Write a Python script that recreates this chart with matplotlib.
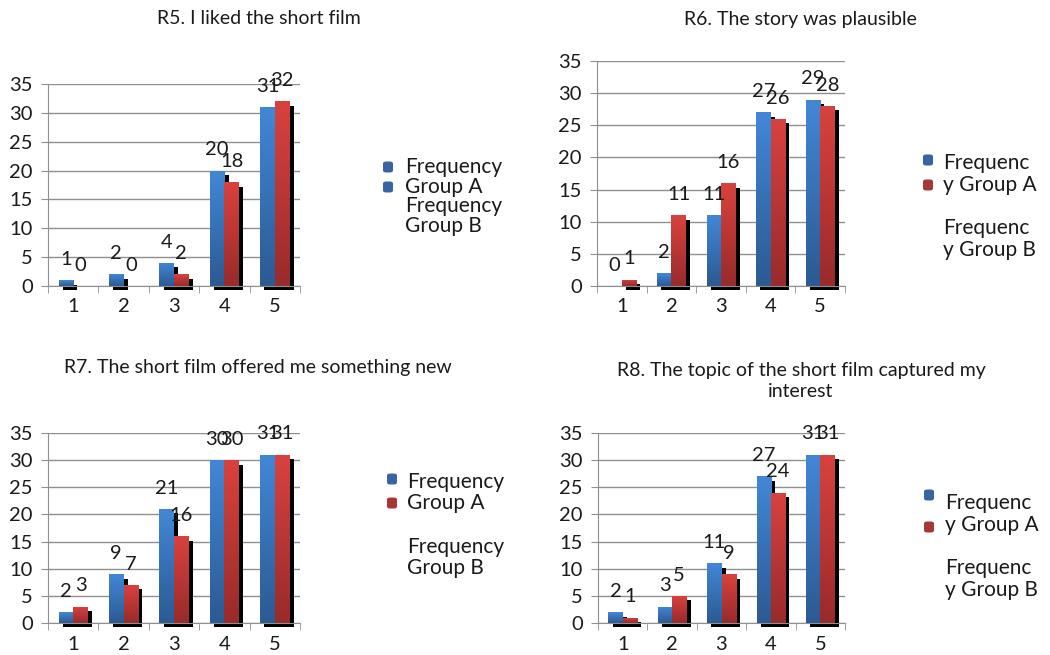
import numpy as np
import matplotlib
matplotlib.use('Agg')
import matplotlib.pyplot as plt
import matplotlib.patheffects as pe
from matplotlib.patches import FancyBboxPatch
from matplotlib.colors import LinearSegmentedColormap

plt.rcParams['font.family'] = ['Lato', 'DejaVu Sans']

# survey answers (scale 1-5), counts per group
categories = ['1', '2', '3', '4', '5']
series_names = ['Frequency Group A', 'Frequency Group B']

r5_group_a = [1, 2, 4, 20, 31]
r5_group_b = [0, 0, 2, 18, 32]
r6_group_a = [0, 2, 11, 27, 29]
r6_group_b = [1, 11, 16, 26, 28]
r7_group_a = [2, 9, 21, 30, 31]
r7_group_b = [3, 7, 16, 30, 31]
r8_group_a = [2, 3, 11, 27, 31]
r8_group_b = [1, 5, 9, 24, 31]

titles = ['R5. I liked the short film',
          'R6. The story was plausible',
          'R7. The short film offered me something new',
          'R8. The topic of the short film captured my\ninterest']

W, H = 1050, 655
FS_TICK = 14.5
FS_LABEL = 14.5
FS_TITLE = 14
FS_LEG = 15
BLUE = ('#4287d6', '#2c5a93')
RED = ('#d8423e', '#982b2b')
GRID = '#8f8f8f'
TXT = '#1a1a1a'


def px_rect(x0, y0, x1, y1):
    return [x0 / W, 1 - y1 / H, (x1 - x0) / W, (y1 - y0) / H]


def gradient_bars(ax, bars, colors):
    cmap = LinearSegmentedColormap.from_list('g', [colors[1], colors[0]])
    grad = np.linspace(0, 1, 64).reshape(-1, 1)
    for b in bars:
        h = b.get_height()
        if h <= 0:
            continue
        x0 = b.get_x()
        im = ax.imshow(grad, cmap=cmap, origin='lower', aspect='auto',
                       extent=(x0, x0 + b.get_width(), 0, h), zorder=b.get_zorder() + 0.1,
                       interpolation='bilinear')
        im.set_clip_path(b)


def legend_block(fig, marker_pos, marker_colors, text_x, lines):
    for (mx, my), c in zip(marker_pos, marker_colors):
        fig.patches.append(FancyBboxPatch(((mx - 5) / W, 1 - (my + 5.5) / H), 10 / W, 11 / H,
                                          boxstyle='round,pad=0,rounding_size=0.003',
                                          transform=fig.transFigure, fc=c, ec='none'))
    for txt, ly in lines:
        fig.text(text_x / W, 1 - ly / H, txt, fontsize=FS_LEG, va='center', ha='left', color=TXT)


def split_name(name, narrow):
    if narrow:
        return [name[:8], name[8:]]
    return name.split(' ', 1)


panels = [
    dict(rect=(48, 84, 300, 286), a=r5_group_a, b=r5_group_b, title=titles[0], title_xy=(259, 19),
         markers=[(388, 167), (388, 187)], mcolors=['#3864a2', '#3864a2'], text_x=405,
         line_y=[167, 187, 206, 226], narrow=False),
    dict(rect=(597, 61, 845, 286), a=r6_group_a, b=r6_group_b, title=titles[1], title_xy=(800, 19),
         markers=[(928, 160), (928, 185)], mcolors=['#3864a2', '#a83636'], text_x=943,
         line_y=[163, 185, 228, 250], narrow=True),
    dict(rect=(48, 433, 300, 623), a=r7_group_a, b=r7_group_b, title=titles[2], title_xy=(258, 368),
         markers=[(392, 479), (392, 503)], mcolors=['#3864a2', '#a83636'], text_x=407,
         line_y=[482, 503, 547, 568], narrow=False),
    dict(rect=(598, 433, 845, 623), a=r8_group_a, b=r8_group_b, title=titles[3], title_xy=(801, 381),
         markers=[(929, 495), (929, 527)], mcolors=['#3864a2', '#a83636'], text_x=945,
         line_y=[503, 525, 568, 590], narrow=True),
]

fig = plt.figure(figsize=(W / 100, H / 100), dpi=100)

width = 0.29
x = np.arange(len(categories))
shadow = [pe.SimplePatchShadow(offset=(3, -3.2), shadow_rgbFace='black', alpha=1.0), pe.Normal()]

for p in panels:
    ax = fig.add_axes(px_rect(*p['rect']))
    bars_a = ax.bar(x - width / 2, p['a'], width, color=BLUE[0], zorder=2, clip_on=False)
    bars_b = ax.bar(x + width / 2, p['b'], width, color=RED[0], zorder=3, clip_on=False)
    for bars in (bars_a, bars_b):
        for b in bars:
            if b.get_height() > 0:
                b.set_path_effects(shadow)
    gradient_bars(ax, bars_a, BLUE)
    gradient_bars(ax, bars_b, RED)

    for bars in (bars_a, bars_b):
        for b in bars:
            ax.annotate(f'{b.get_height():.0f}', (b.get_x() + b.get_width() / 2, b.get_height()),
                        xytext=(0, 11), textcoords='offset points', ha='center', va='baseline',
                        fontsize=FS_LABEL, color=TXT, zorder=6)

    ax.set_xlim(-0.5, len(categories) - 0.5)
    ax.set_ylim(0, 35)
    ax.set_yticks(range(0, 36, 5))
    ax.set_xticks(x)
    ax.set_xticklabels(categories)
    ax.set_xticks(np.arange(-0.5, len(categories)), minor=True)
    ax.tick_params(axis='x', which='major', length=0, pad=9, labelsize=FS_TICK, labelcolor=TXT)
    ax.tick_params(axis='x', which='minor', length=5, color=GRID, direction='out')
    ax.tick_params(axis='y', length=5, color=GRID, pad=6, labelsize=FS_TICK, labelcolor=TXT)
    ax.grid(axis='y', color=GRID, lw=1)
    ax.set_axisbelow(True)
    for s in ('top', 'right'):
        ax.spines[s].set_visible(False)
    for s in ('left', 'bottom'):
        ax.spines[s].set_color(GRID)
        ax.spines[s].set_zorder(5)

    tx, ty = p['title_xy']
    fig.text(tx / W, 1 - ty / H, p['title'], fontsize=FS_TITLE, ha='center', va='center',
             color=TXT, linespacing=1.25)

    lines = split_name(series_names[0], p['narrow']) + split_name(series_names[1], p['narrow'])
    legend_block(fig, p['markers'], p['mcolors'], p['text_x'], list(zip(lines, p['line_y'])))

fig.savefig('out.png', dpi=100)
